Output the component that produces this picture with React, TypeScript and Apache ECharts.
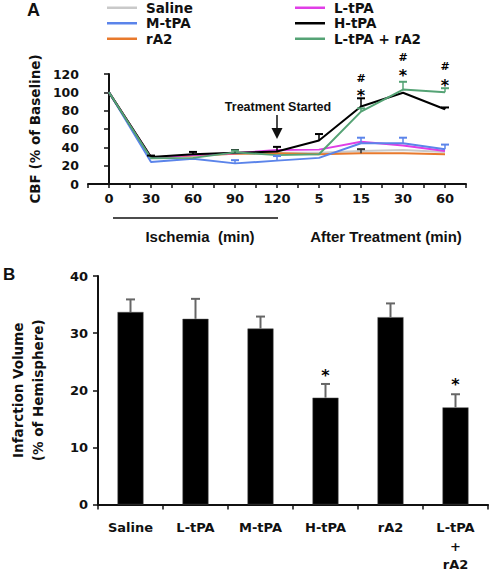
import React, { useEffect, useRef } from "react";
import * as echarts from "echarts";

// ---------- Panel A data ----------
const cbfCategories = ["0", "30", "60", "90", "120", "5", "15", "30", "60"];
const salineCBF = [100, 29, 31, 33, 34, 34, 36, 37, 35];
const salineErr = [0, 0, 0, 0, 0, 0, 0, 0, 0];
const ltpaCBF = [100, 29, 31.5, 33.5, 37, 37.5, 46, 42, 36];
const ltpaErr = [0, 0, 0, 0, 0, 0, 0, 0, 0];
const mtpaCBF = [100, 24, 27.5, 22.5, 25.5, 28.5, 44.5, 44.5, 38];
const mtpaErr = [0, 0, 0, 3.5, 5, 0, 6, 6, 5];
const htpaCBF = [100, 29.5, 32.5, 34, 35.5, 47.5, 84.5, 99.5, 81.5];
const htpaErr = [0, 1.5, 2.5, 3, 5, 7, 9, 0, 2];
const ra2CBF = [100, 29, 31, 33, 33.5, 32.5, 33.5, 33.5, 32.5];
const ra2Err = [0, 0, 0, 0, 0, 0, 4.5, 0, 0];
const comboCBF = [100, 28, 28.5, 34.5, 31.5, 32.5, 79, 103, 100];
const comboErr = [0, 0, 0, 2, 0, 0, 3.5, 8.5, 4.5];
const cbfYTicks = { min: 0, max: 120, interval: 20 };
const sigIndexA = [6, 7, 8];
const starValuesA = [97, 118, 108];
const hashValuesA = [115.5, 137.5, 128];

// ---------- Panel B data ----------
const barCategories = ["Saline", "L-tPA", "M-tPA", "H-tPA", "rA2", "L-tPA\n+\nrA2"];
const infarctVolume = [33.7, 32.5, 30.8, 18.7, 32.8, 17.0];
const infarctErr = [2.2, 3.5, 2.1, 2.4, 2.4, 2.3];
const sigIndexB = [3, 5];
const starValuesB = [22.6, 21.0];
const barYTicks = { min: 0, max: 40, interval: 10 };

const VERDANA = "DejaVu Sans";
const ARIAL = "Liberation Sans";

const groups = [
  { name: "Saline", data: salineCBF, err: salineErr, color: "#c9c9c9", errColor: "#444444" },
  { name: "rA2", data: ra2CBF, err: ra2Err, color: "#e8792c", errColor: "#333333" },
  { name: "L-tPA", data: ltpaCBF, err: ltpaErr, color: "#e03ee6", errColor: "#e03ee6" },
  { name: "M-tPA", data: mtpaCBF, err: mtpaErr, color: "#5b84ea", errColor: "#5b84ea" },
  { name: "H-tPA", data: htpaCBF, err: htpaErr, color: "#000000", errColor: "#000000" },
  { name: "L-tPA + rA2", data: comboCBF, err: comboErr, color: "#55a375", errColor: "#55a375" },
];

function errorRenderer(color: string, lw: number, capHalf: number) {
  return (params: any, api: any) => {
    const x = api.value(0);
    const v = api.value(1);
    const e = api.value(2);
    if (!e) return { type: "group", children: [] };
    const p0 = api.coord([x, v]);
    const p1 = api.coord([x, v + e]);
    return {
      type: "group",
      children: [
        { type: "line", shape: { x1: p0[0], y1: p0[1], x2: p1[0], y2: p1[1] }, style: { stroke: color, lineWidth: lw } },
        { type: "line", shape: { x1: p1[0] - capHalf, y1: p1[1], x2: p1[0] + capHalf, y2: p1[1] }, style: { stroke: color, lineWidth: 2 } },
      ],
    };
  };
}

const legendText = {
  fontFamily: VERDANA,
  fontWeight: "bold" as const,
  fontSize: 13.5,
  lineHeight: 15.5,
  color: "#111",
  padding: [0, 0, 0, 4],
};

function sigLabel(text: string, size: number) {
  return { show: true, position: "inside", formatter: text, fontFamily: VERDANA, fontWeight: "bold", fontSize: size, color: "#000", opacity: 1 };
}

export default function App() {
  const ref = useRef<HTMLDivElement>(null);
  useEffect(() => {
    if (!ref.current) return;
    const chart = echarts.init(ref.current, null, { renderer: "svg" });

    const lineSeries: any[] = groups.map((g) => ({
      type: "line",
      name: g.name,
      xAxisIndex: 0,
      yAxisIndex: 0,
      data: g.data.map((v, i) => [i, v]),
      color: g.color,
      lineStyle: { width: 2, color: g.color },
      symbol: "none",
      z: 3,
    }));
    const errSeries: any[] = groups.map((g) => ({
      type: "custom",
      name: "err-" + g.name,
      xAxisIndex: 0,
      yAxisIndex: 0,
      data: g.data.map((v, i) => [i, v, g.err[i]]),
      encode: { x: 0, y: 1 },
      renderItem: errorRenderer(g.errColor, 1.5, 4),
      z: 4,
    }));

    const legendBase = {
      orient: "vertical",
      top: 0,
      padding: 0,
      itemWidth: 30,
      itemHeight: 2.5,
      itemGap: 0,
      icon: "rect",
      selectedMode: false,
      textStyle: legendText,
    };

    const option: any = {
      animation: false,
      legend: [
        { ...legendBase, data: ["Saline", "M-tPA", "rA2"], left: 107 },
        { ...legendBase, data: ["L-tPA", "H-tPA", "L-tPA + rA2"], left: 295 },
      ],
      grid: [
        { left: 88, top: 74, width: 378, height: 110 },
        { left: 82, top: 276, width: 406, height: 232 },
      ],
      xAxis: [
        {
          type: "value",
          gridIndex: 0,
          min: -0.5,
          max: 8.5,
          interval: 0.5,
          splitLine: { show: false },
          axisLine: { show: true, lineStyle: { color: "#111", width: 2 } },
          axisTick: { show: true, length: 4, lineStyle: { color: "#111", width: 1.5 } },
          axisLabel: {
            formatter: (v: number) => (Number.isInteger(v) && v >= 0 && v < cbfCategories.length ? cbfCategories[v] : ""),
            fontFamily: VERDANA,
            fontWeight: "bold",
            fontSize: 13,
            color: "#111",
            margin: 8,
            showMinLabel: true,
            showMaxLabel: true,
          },
        },
        {
          type: "category",
          gridIndex: 1,
          data: barCategories,
          axisLine: { show: true, lineStyle: { color: "#111", width: 2 } },
          axisTick: { show: true, length: 5, alignWithLabel: false, lineStyle: { color: "#111", width: 1.5 } },
          axisLabel: {
            interval: 0,
            fontFamily: VERDANA,
            fontWeight: "bold",
            fontSize: 13,
            lineHeight: 18.5,
            color: "#111",
            margin: 14,
          },
        },
      ],
      yAxis: [
        {
          type: "value",
          gridIndex: 0,
          min: cbfYTicks.min,
          max: cbfYTicks.max,
          interval: cbfYTicks.interval,
          splitLine: { show: false },
          axisLine: { show: true, lineStyle: { color: "#111", width: 2 } },
          axisTick: { show: true, length: 5, lineStyle: { color: "#111", width: 1.5 } },
          axisLabel: { fontFamily: VERDANA, fontWeight: "bold", fontSize: 12.5, color: "#111", margin: 9 },
          name: "CBF (% of Baseline)",
          nameLocation: "middle",
          nameRotate: 90,
          nameGap: 43,
          nameTextStyle: { fontFamily: VERDANA, fontWeight: "bold", fontSize: 13.5, color: "#111" },
        },
        {
          type: "value",
          gridIndex: 1,
          min: barYTicks.min,
          max: barYTicks.max,
          interval: barYTicks.interval,
          splitLine: { show: false },
          axisLine: { show: true, lineStyle: { color: "#111", width: 2 } },
          axisTick: { show: true, length: 5, lineStyle: { color: "#111", width: 1.5 } },
          axisLabel: { fontFamily: VERDANA, fontWeight: "bold", fontSize: 13, color: "#111", margin: 10 },
          name: "Infarction Volume\n(% of Hemisphere)",
          nameLocation: "middle",
          nameRotate: 90,
          nameGap: 50,
          nameTextStyle: { fontFamily: VERDANA, fontWeight: "bold", fontSize: 13.5, lineHeight: 20, color: "#111" },
        },
      ],
      series: [
        ...lineSeries,
        ...errSeries,
        {
          type: "scatter",
          name: "sigStarA",
          xAxisIndex: 0,
          yAxisIndex: 0,
          clip: false,
          symbolSize: 1,
          itemStyle: { color: "rgba(0,0,0,0)" },
          data: sigIndexA.map((i, k) => [i, starValuesA[k]]),
          label: sigLabel("*", 16),
          z: 6,
        },
        {
          type: "scatter",
          name: "sigHashA",
          xAxisIndex: 0,
          yAxisIndex: 0,
          clip: false,
          symbolSize: 1,
          itemStyle: { color: "rgba(0,0,0,0)" },
          data: sigIndexA.map((i, k) => [i, hashValuesA[k]]),
          label: sigLabel("#", 11),
          z: 6,
        },
        {
          type: "bar",
          name: "Infarction",
          xAxisIndex: 1,
          yAxisIndex: 1,
          data: infarctVolume,
          barWidth: "40%",
          itemStyle: { color: "#000", borderColor: "#555", borderWidth: 0.5 },
        },
        {
          type: "custom",
          name: "infarctErr",
          xAxisIndex: 1,
          yAxisIndex: 1,
          data: infarctVolume.map((v, i) => [i, v, infarctErr[i]]),
          encode: { x: 0, y: 1 },
          renderItem: errorRenderer("#666666", 2, 4.5),
          z: 4,
        },
        {
          type: "scatter",
          name: "sigStarB",
          xAxisIndex: 1,
          yAxisIndex: 1,
          clip: false,
          symbolSize: 1,
          itemStyle: { color: "rgba(0,0,0,0)" },
          data: sigIndexB.map((i, k) => [i, starValuesB[k]]),
          label: sigLabel("*", 16),
          z: 6,
        },
      ],
      graphic: [
        { type: "text", left: 27, top: 1, style: { text: "A", fontFamily: ARIAL, fontWeight: "bold", fontSize: 18, fill: "#111" } },
        { type: "text", left: 3, top: 266, style: { text: "B", fontFamily: ARIAL, fontWeight: "bold", fontSize: 17, fill: "#111" } },
        {
          type: "text",
          x: 278,
          y: 107,
          style: { text: "Treatment Started", fontFamily: ARIAL, fontWeight: "bold", fontSize: 12.5, fill: "#111", align: "center", verticalAlign: "middle" },
        },
        { type: "line", shape: { x1: 277, y1: 115, x2: 277, y2: 130 }, style: { stroke: "#111", lineWidth: 1.5 } },
        { type: "polygon", shape: { points: [[271.5, 128], [282.5, 128], [277, 139]] }, style: { fill: "#111" } },
        { type: "line", shape: { x1: 113, y1: 218, x2: 278, y2: 218 }, style: { stroke: "#111", lineWidth: 1.5 } },
        {
          type: "text",
          x: 200,
          y: 236,
          style: { text: "Ischemia  (min)", fontFamily: ARIAL, fontWeight: "bold", fontSize: 15, fill: "#111", align: "center", verticalAlign: "middle" },
        },
        {
          type: "text",
          x: 386,
          y: 236,
          style: { text: "After Treatment (min)", fontFamily: ARIAL, fontWeight: "bold", fontSize: 15, fill: "#111", align: "center", verticalAlign: "middle" },
        },
      ],
    };
    chart.setOption(option);
    return () => chart.dispose();
  }, []);
  return <div ref={ref} style={{ position: "absolute", left: 0, top: 0, width: 490, height: 574, background: "#fff" }} />;
}
